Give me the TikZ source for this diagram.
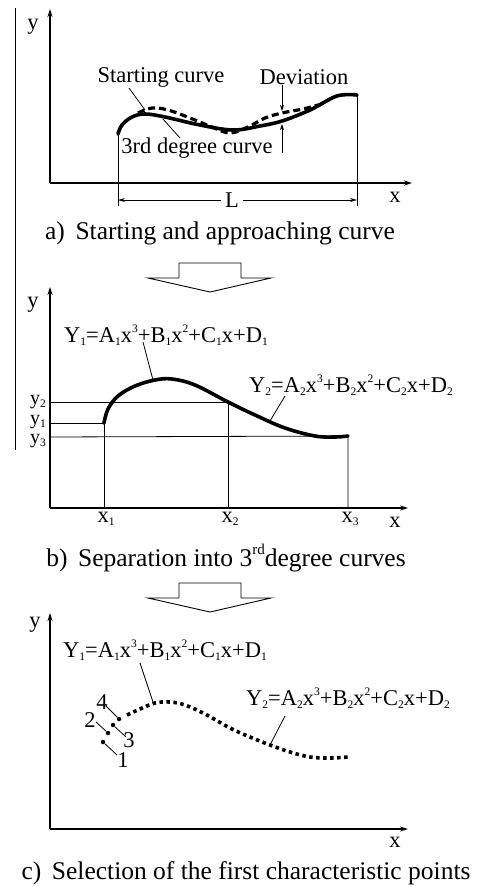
\documentclass[tikz,border=0pt]{standalone}
\usepackage{fontspec}
\setmainfont{Liberation Serif}
\usetikzlibrary{arrows.meta,positioning}
\newcommand\lo[1]{\raisebox{-0.14em}[0pt][0pt]{\fontsize{11.5}{12}\selectfont #1}}
\newcommand\hi[1]{\raisebox{0.42em}[0pt][0pt]{\fontsize{11.5}{12}\selectfont #1}}

\begin{document}
\begin{tikzpicture}[
        x=1pt, y=-1pt,
        lbl/.style={font=\fontsize{22.5}{26}\selectfont, inner sep=0pt},
        ylbl/.style={font=\fontsize{20}{22}\selectfont, inner sep=0pt},
        capt/.style={font=\fontsize{25.5}{30}\selectfont, inner sep=0pt},
        axisline/.style={-{Stealth[length=8pt,width=5pt]}, line width=1.1pt},
        thinline/.style={line width=0.8pt},
        leader/.style={line width=0.8pt},
        mainfit/.style={line width=3.6pt, line cap=round},
        startfit/.style={line width=3.2pt, dash pattern=on 7pt off 4pt},
        pointfit/.style={line width=3.6pt, dash pattern=on 3.5pt off 3.5pt},
        hollow/.style={line width=0.9pt, fill=white},
        pt/.style={circle, fill, inner sep=0pt, minimum size=4.5pt}
    ]
        \useasboundingbox (0,0) rectangle (477,887);
        \draw[thinline] (15,8) -- (15,450);

        % Panel a: starting and approaching curve
        \coordinate (oa) at (50,183);
        \draw[axisline] (oa) -- (50,9);
        \draw[axisline] (oa) -- (412,183);
        \node[lbl] (ya) at (33,27) {y};
        \node[lbl] (xa) at (395,197) {x};
        \coordinate (la) at (118,134);
        \coordinate (ra) at (357,95);
        \draw[thinline] (la) -- (118,206);
        \draw[thinline] (ra) -- (357,206);
        \node[lbl, fill=white, inner xsep=4pt] (L) at (232,200) {L};
        \draw[thinline, -{Stealth[length=7pt,width=4pt]}] (L.west) -- (118,200);
        \draw[thinline, -{Stealth[length=7pt,width=4pt]}] (L.east) -- (357,200);
        \draw[mainfit] plot[smooth, tension=0.6] coordinates {
            (la) (122,125) (132,117) (145,114) (165,117) (200,125) (233,130)
            (260,126) (282,121) (310,110) (337,96) (ra)};
        \draw[startfit] plot[smooth, tension=0.6] coordinates {
            (138,113) (152,108) (168,110) (190,118) (212,127) (230,133)
            (248,127) (265,118) (282,113) (303,109) (322,104)};
        \node[lbl] (sc) at (161,77) {Starting curve};
        \node[lbl] (dev) at (304,77) {Deviation};
        \node[lbl] (deg) at (197,148) {3rd degree curve};
        \coordinate (scend) at (145,110);
        \coordinate (degend) at (163,119);
        \draw[leader] (129,88) -- (scend);
        \draw[leader] (180,138) -- (degend);
        \draw[thinline, -{Stealth[length=6pt,width=4pt]}] (dev.south -| 282,0) -- (282,111);
        \draw[thinline, -{Stealth[length=6pt,width=4pt]}] (282,153) -- (282,124);
        \node[capt] (capa) at (220,233) {a)\, Starting and approaching curve};

        % Hollow arrows between panels
        \foreach \t in {263,583} {
            \draw[hollow] (179,\t) -- (241,\t) -- (241,\t+15) -- (271,\t+15)
                -- (210,\t+29) -- (148,\t+15) -- (179,\t+15) -- cycle;
        }

        % Panel b: separation into 3rd degree curves
        \coordinate (ob) at (50,508);
        \draw[axisline] (ob) -- (50,287);
        \draw[axisline] (ob) -- (408,508);
        \node[lbl] (yb) at (33,305) {y};
        \node[lbl] (xb) at (395,522) {x};
        \coordinate (p1) at (104,423);
        \coordinate (p2) at (228,402);
        \coordinate (p3) at (348,436);
        \draw[thinline] (50,423) -- (p1) -- (104,508);
        \draw[thinline] (50,402) -- (p2) -- (228,508);
        \draw[thinline] (50,437) -- (p3) -- (348,508);
        \node[lbl] (x1) at (106,517) {x\lo{1}};
        \node[lbl] (x2) at (230,517) {x\lo{2}};
        \node[lbl] (x3) at (350,517) {x\lo{3}};
        \node[ylbl] (y2) at (38,402) {y\lo{2}};
        \node[ylbl] (y1) at (38,422) {y\lo{1}};
        \node[ylbl] (y3) at (38,441) {y\lo{3}};
        \draw[mainfit] plot[smooth, tension=0.6] coordinates {
            (p1) (108,409) (118,396) (135,386) (155,380) (172,379) (195,385)
            (p2) (255,415) (285,428) (315,436) (335,437) (p3)};
        \node[lbl] (eq1b) at (166,335) {Y\lo{1}=A\lo{1}x\hi{3}+B\lo{1}x\hi{2}+C\lo{1}x+D\lo{1}};
        \node[lbl] (eq2b) at (351,385) {Y\lo{2}=A\lo{2}x\hi{3}+B\lo{2}x\hi{2}+C\lo{2}x+D\lo{2}};
        \coordinate (c1b) at (153,380);
        \coordinate (c2b) at (270,421);
        \draw[leader] (143,342) -- (c1b);
        \draw[leader] (285,396) -- (c2b);
        \node[capt] (capb) at (226,558) {b)\, Separation into 3\raisebox{0.5em}{\fontsize{15}{16}\selectfont rd}degree curves};

        % Panel c: selection of the first characteristic points
        \coordinate (oc) at (50,829);
        \draw[axisline] (oc) -- (50,613);
        \draw[axisline] (oc) -- (408,829);
        \node[lbl] (yc) at (35,625) {y};
        \node[lbl] (xc) at (395,842) {x};
        \draw[pointfit] plot[smooth, tension=0.6] coordinates {
            (127,715) (140,709) (155,703) (170,702) (185,705) (205,714)
            (230,728) (250,737) (270,745) (290,752) (310,757) (330,758) (348,757)};
        \node[pt] (k1) at (103,742) {};
        \node[pt] (k2) at (108,733) {};
        \node[pt] (k3) at (113,725) {};
        \node[pt] (k4) at (119,719) {};
        \node[lbl] (n1) at (123,760) {1};
        \node[lbl] (n2) at (90,720) {2};
        \node[lbl] (n3) at (129,740) {3};
        \node[lbl] (n4) at (102,702) {4};
        \draw[leader] (k1) -- (117,755);
        \draw[leader] (96,722) -- (k2);
        \draw[leader] (k3) -- (126,737);
        \draw[leader] (106,706) -- (k4);
        \node[lbl] (eq1c) at (165,650) {Y\lo{1}=A\lo{1}x\hi{3}+B\lo{1}x\hi{2}+C\lo{1}x+D\lo{1}};
        \node[lbl] (eq2c) at (348,698) {Y\lo{2}=A\lo{2}x\hi{3}+B\lo{2}x\hi{2}+C\lo{2}x+D\lo{2}};
        \coordinate (c1c) at (153,702);
        \coordinate (c2c) at (270,745);
        \draw[leader] (140,663) -- (c1c);
        \draw[leader] (285,716) -- (c2c);
        \node[capt] (capc) at (246,873) {c)\, Selection of the first characteristic points};
    \end{tikzpicture}
\end{document}
